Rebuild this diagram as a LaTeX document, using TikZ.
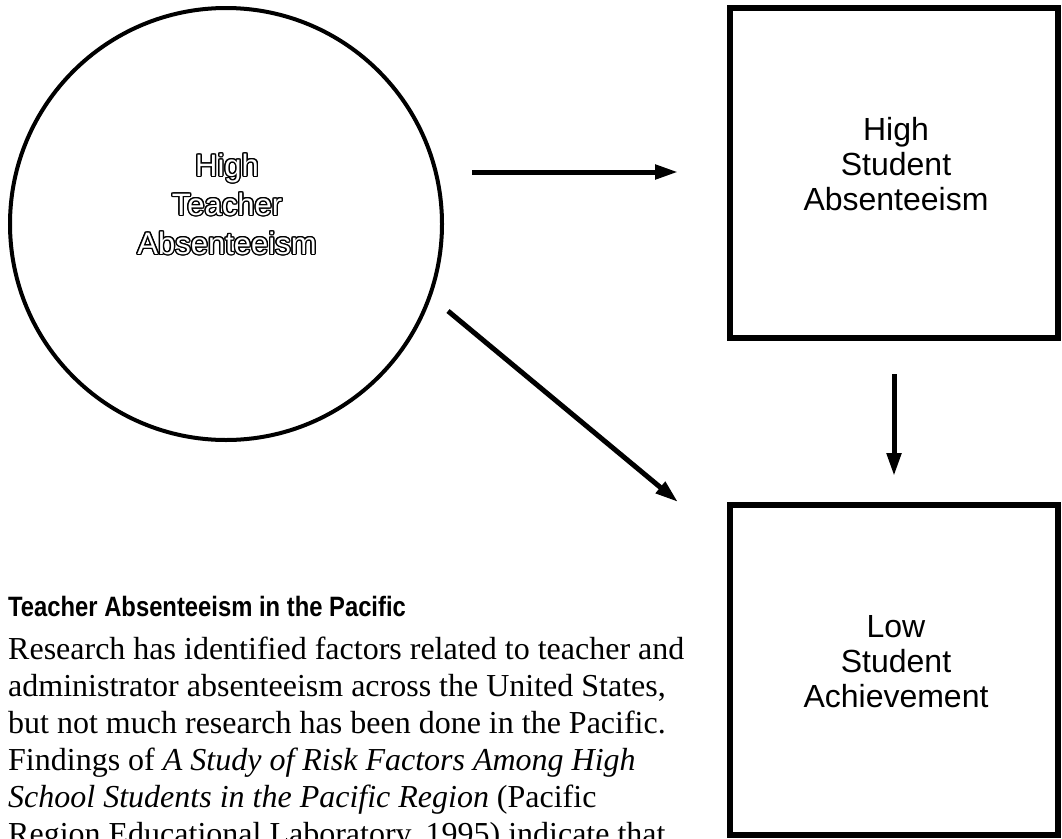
\documentclass[tikz,border=0pt]{standalone}
\usepackage{fontspec}
\setmainfont{Liberation Serif}
\setsansfont{Liberation Sans}
\usepackage[copies]{contour}
\usetikzlibrary{arrows.meta}
\contourlength{1.3pt}
\newcommand{\hollow}[1]{\contour{black}{\textcolor{white}{#1}}}

\begin{document}
\begin{tikzpicture}[x=1pt,y=-1pt]
\tikzset{cause/.style = {circle, draw, line width=4pt, minimum size=432pt, inner sep=0pt}}
\tikzset{effect/.style = {rectangle, draw, line width=6pt, minimum width=328pt, minimum height=330pt, inner sep=0pt}}
\tikzset{boxtext/.style = {align=center, inner sep=0pt, font=\sffamily\fontsize{32}{35}\selectfont}}
\tikzset{edge/.style = {-{Triangle[length=23pt,width=14pt]}, line width=5pt}}

\useasboundingbox (0,0) rectangle (1062,838);

\node[cause] (t) at (226,224) {};
\node[effect] (s) at (894,173) {};
\node[effect] (a) at (894,670) {};

\node[boxtext, font=\sffamily\fontsize{31}{39}\selectfont] (tl) at (227,205) {\hollow{High}\\\hollow{Teacher}\\\hollow{Absenteeism}};
\node[boxtext] (sl) at (896,164) {High\\Student\\Absenteeism};
\node[boxtext] (al) at (896,662) {Low\\Student\\Achievement};

\coordinate (h0) at (472,172);
\coordinate (h1) at (678,172);
\coordinate (d0) at (448,311);
\coordinate (d1) at (678,502);

\draw[edge] (h0) -- (h1);
\draw[edge] (d0) -- (d1);
\draw[edge, shorten <=33pt, shorten >=26pt] (s.south) -- (a.north);

\node[anchor=base west, inner sep=0pt, font=\sffamily\bfseries\fontsize{28}{32}\selectfont] (ttl) at (8,616) {\scalebox{0.85}[1]{Teacher Absenteeism in the Pacific}};
\node[anchor=north west, align=left, inner sep=0pt, font=\fontsize{32}{37}\selectfont] (txt) at (8,637) {Research has identified factors related to teacher and\\
administrator absenteeism across the United States,\\
but not much research has been done in the Pacific.\\
Findings of \textit{A Study of Risk Factors Among High}\\
\textit{School Students in the Pacific Region} (Pacific\\
Region Educational Laboratory, 1995) indicate that};

\end{tikzpicture}
\end{document}
